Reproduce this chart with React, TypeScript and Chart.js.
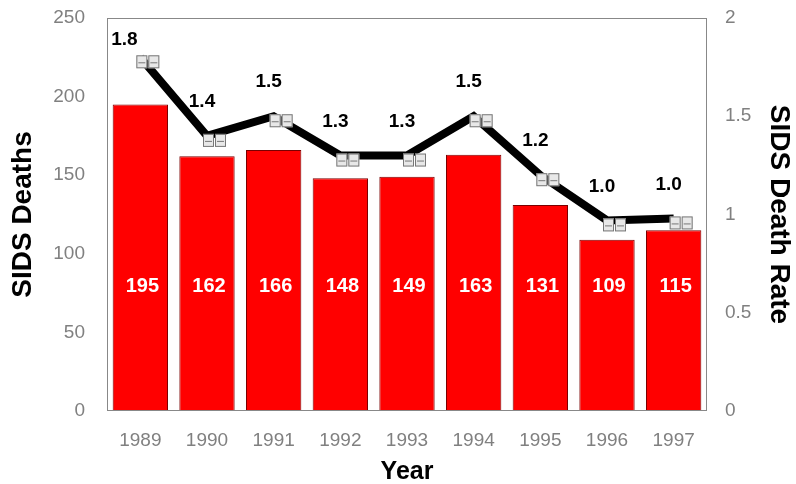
import React, { useEffect, useRef } from "react";
import { Chart, registerables } from "chart.js";

Chart.register(...registerables);

const years = ["1989", "1990", "1991", "1992", "1993", "1994", "1995", "1996", "1997"];
const deaths = [195, 162, 166, 148, 149, 163, 131, 109, 115];
const rates = [1.8, 1.4, 1.5, 1.3, 1.3, 1.5, 1.2, 0.97, 0.98];
const rateLabels = ["1.8", "1.4", "1.5", "1.3", "1.3", "1.5", "1.2", "1.0", "1.0"];

const FONT = "'Liberation Sans', Arial, sans-serif";

const labelPlugin = {
  id: "labels",
  afterDatasetsDraw(chart: any) {
    const ctx = chart.ctx;
    const area = chart.chartArea;
    ctx.save();
    ctx.strokeStyle = "#888";
    ctx.lineWidth = 1;
    ctx.strokeRect(area.left + 0.5, area.top + 0.5, area.right - area.left - 1, area.bottom - area.top - 1);
    const yL = chart.scales.y;
    const barMeta = chart.getDatasetMeta(0);
    ctx.font = `bold 20px ${FONT}`;
    ctx.fillStyle = "#fff";
    ctx.textAlign = "center";
    ctx.textBaseline = "middle";
    barMeta.data.forEach((el: any, i: number) => {
      ctx.fillText(String(deaths[i]), el.x + 2, yL.getPixelForValue(79));
    });
    const lineMeta = chart.getDatasetMeta(1);
    // markers
    lineMeta.data.forEach((el: any) => {
      for (let k = 0; k < 2; k++) {
        const x0 = el.x - 4 + k * 12;
        const y0 = el.y - 2;
        ctx.fillStyle = "#e8e8e8";
        ctx.fillRect(x0, y0, 11, 13);
        ctx.strokeStyle = "#777";
        ctx.lineWidth = 1;
        ctx.strokeRect(x0 + 0.5, y0 + 0.5, 10, 12);
        ctx.beginPath();
        ctx.moveTo(x0 + 2, y0 + 7.5);
        ctx.lineTo(x0 + 9, y0 + 7.5);
        ctx.stroke();
      }
    });
    ctx.fillStyle = "#000";
    ctx.font = `bold 19px ${FONT}`;
    ctx.textBaseline = "middle";
    lineMeta.data.forEach((el: any, i: number) => {
      if (i === 0) ctx.fillText(rateLabels[i], el.x - 16, el.y - 18);
      else ctx.fillText(rateLabels[i], el.x - 5, el.y - 34);
    });
    ctx.restore();
  },
};

export default function App() {
  const ref = useRef<HTMLCanvasElement>(null);
  useEffect(() => {
    document.body.style.margin = "0";
    const tickFont = { family: FONT, size: 19 };
    const chart = new Chart(ref.current!, {
      type: "bar",
      data: {
        labels: years,
        datasets: [
          {
            type: "bar",
            data: deaths,
            backgroundColor: "#ff0000",
            borderColor: "#7a0000",
            borderWidth: 1,
            barPercentage: 0.83,
            categoryPercentage: 1,
            yAxisID: "y",
            order: 2,
          },
          {
            type: "line",
            data: rates,
            borderColor: "#000",
            borderWidth: 8,
            pointRadius: 0,
            yAxisID: "y1",
            order: 1,
          } as any,
        ],
      },
      options: {
        animation: false,
        responsive: false,
        layout: { padding: { top: 18, left: 0, right: 0, bottom: 0 } },
        plugins: { legend: { display: false }, tooltip: { enabled: false } },
        scales: {
          x: {
            grid: { display: false },
            border: { display: false },
            ticks: { color: "#808080", font: tickFont, padding: 10 },
            title: { display: true, text: "Year", color: "#000", font: { family: FONT, size: 25, weight: "bold" }, padding: { top: 10, bottom: -3 } },
            afterFit(s: any) { s.height = 73; s.paddingLeft = 0; s.paddingRight = 0; },
          },
          y: {
            position: "left",
            min: 0,
            max: 250,
            ticks: { stepSize: 50, color: "#808080", font: tickFont, padding: 14 },
            grid: { display: false },
            border: { display: false },
            title: { display: true, text: "SIDS Deaths", color: "#000", font: { family: FONT, size: 28, weight: "bold" }, padding: { top: 6, bottom: 0 } },
            afterFit(s: any) { s.width = 107; s.paddingTop = 0; s.paddingBottom = 0; },
          },
          y1: {
            position: "right",
            min: 0,
            max: 2,
            ticks: { stepSize: 0.5, color: "#808080", font: tickFont, padding: 10, callback: (v: any) => String(v) },
            grid: { display: false },
            border: { display: false },
            title: { display: true, text: "SIDS Death Rate", color: "#000", font: { family: FONT, size: 28, weight: "bold" }, padding: { top: 0, bottom: 0 } },
            afterFit(s: any) { s.width = 89; s.paddingTop = 0; s.paddingBottom = 0; },
          },
        },
      },
      plugins: [labelPlugin],
    } as any);
    return () => chart.destroy();
  }, []);
  return (
    <div style={{ width: 796, height: 484, background: "#fff" }}>
      <canvas ref={ref} width={796} height={484} />
    </div>
  );
}
